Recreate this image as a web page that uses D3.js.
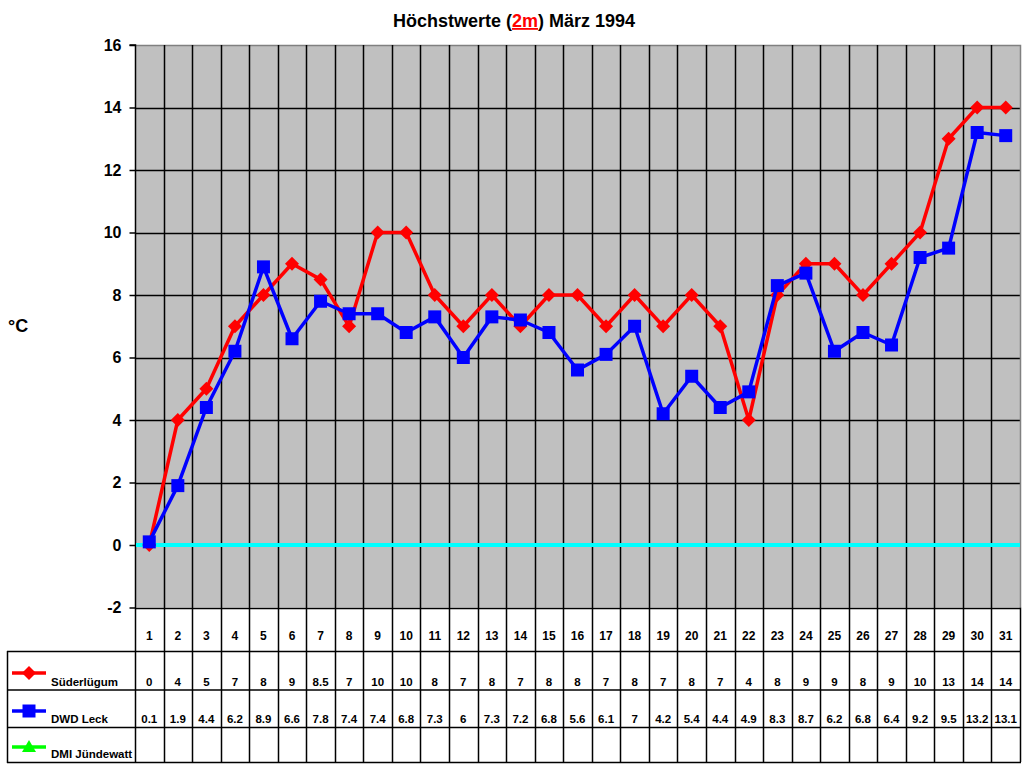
<!DOCTYPE html>
<html>
<head>
<meta charset="utf-8">
<script src="https://cdn.jsdelivr.net/npm/d3@7"></script>
<style>
  html, body { margin: 0; padding: 0; background: #fff; }
  svg { display: block; font-family: "Liberation Sans", Arial, sans-serif; font-weight: bold; }
</style>
</head>
<body>
<div id="chart"></div>
<script>
const days = d3.range(1, 32);
const suederluegum = [0, 4, 5, 7, 8, 9, 8.5, 7, 10, 10, 8, 7, 8, 7, 8, 8, 7, 8, 7, 8, 7, 4, 8, 9, 9, 8, 9, 10, 13, 14, 14];
const dwdLeck = [0.1, 1.9, 4.4, 6.2, 8.9, 6.6, 7.8, 7.4, 7.4, 6.8, 7.3, 6, 7.3, 7.2, 6.8, 5.6, 6.1, 7, 4.2, 5.4, 4.4, 4.9, 8.3, 8.7, 6.2, 6.8, 6.4, 9.2, 9.5, 13.2, 13.1];
const dmiJuendewatt = [];
const yTicks = [-2, 0, 2, 4, 6, 8, 10, 12, 14, 16];

const series = [
  { name: "Süderlügum", values: suederluegum, color: "#ff0000", marker: "diamond" },
  { name: "DWD Leck", values: dwdLeck, color: "#0000ff", marker: "square" },
  { name: "DMI Jündewatt", values: dmiJuendewatt, color: "#00ff00", marker: "triangle" },
];

const width = 1024, height = 768;
const plot = { left: 135, right: 1020, top: 45, bottom: 607.5 };
const tableRows = [651, 689.5, 727, 762];
const tableLeft = 7;

const svg = d3.select("#chart").append("svg")
  .attr("width", width)
  .attr("height", height);

const x = d3.scaleBand().domain(days).range([plot.left, plot.right]);
const y = d3.scaleLinear().domain([-2, 16]).range([plot.bottom, plot.top]);

// Plot background
svg.append("rect")
  .attr("x", plot.left).attr("y", plot.top)
  .attr("width", plot.right - plot.left).attr("height", plot.bottom - plot.top)
  .attr("fill", "#c0c0c0");

// Horizontal gridlines
svg.append("g")
  .selectAll("line")
  .data(yTicks.filter((t) => t !== 16))
  .join("line")
  .attr("x1", plot.left).attr("x2", plot.right)
  .attr("y1", (d) => Math.round(y(d)) + 0.5).attr("y2", (d) => Math.round(y(d)) + 0.5)
  .attr("stroke", "#000").attr("stroke-width", 1.5);

// Frame top/right in grey
svg.append("path")
  .attr("d", `M${plot.left},${plot.top + 0.5}H${plot.right + 0.5}V${plot.bottom}`)
  .attr("fill", "none").attr("stroke", "#808080").attr("stroke-width", 1.5);

// Vertical gridlines through plot and table
svg.append("g")
  .selectAll("line")
  .data(days.slice(1))
  .join("line")
  .attr("x1", (d) => Math.round(x(d)) + 0.5).attr("x2", (d) => Math.round(x(d)) + 0.5)
  .attr("y1", plot.top).attr("y2", tableRows[3])
  .attr("stroke", "#000").attr("stroke-width", 1.5);

// right border of table
svg.append("line")
  .attr("x1", plot.right + 0.5).attr("x2", plot.right + 0.5)
  .attr("y1", plot.bottom).attr("y2", tableRows[3])
  .attr("stroke", "#000").attr("stroke-width", 1.5);

// Y axis
svg.append("g")
  .attr("transform", `translate(${plot.left + 0.5},0)`)
  .call(d3.axisLeft(y).tickValues(yTicks).tickFormat((d) => String(d)).tickSize(6).tickPadding(8))
  .call((g) => g.select(".domain").attr("stroke", "#000").attr("stroke-width", 1.5)
    .attr("d", `M-6,${plot.top}H0V${tableRows[3]}`))
  .call((g) => g.selectAll(".tick line").attr("stroke", "#000").attr("stroke-width", 1.5))
  .selectAll("text")
  .attr("fill", "#000")
  .style("font-family", "'Liberation Sans', Arial, sans-serif")
  .style("font-weight", "bold")
  .style("font-size", "16px");

// Zero line
svg.append("line")
  .attr("x1", plot.left + 1).attr("x2", plot.right)
  .attr("y1", y(0)).attr("y2", y(0))
  .attr("stroke", "#00ffff").attr("stroke-width", 4);

// Data lines and markers
const markerPath = {
  diamond: "M0,-7L7,0L0,7L-7,0Z",
  square: "M-6.5,-6.5H6.5V6.5H-6.5Z",
  triangle: "M0,-7L7,5H-7Z",
};

series.forEach((s) => {
  const pts = s.values.map((v, i) => ({ day: days[i], v }));
  if (!pts.length) return;
  const line = d3.line()
    .x((d) => x(d.day) + x.bandwidth() / 2)
    .y((d) => y(d.v));
  svg.append("path")
    .datum(pts)
    .attr("fill", "none")
    .attr("stroke", s.color)
    .attr("stroke-width", 3.5)
    .attr("stroke-linejoin", "round")
    .attr("d", line);
  svg.append("g")
    .selectAll("path")
    .data(pts)
    .join("path")
    .attr("transform", (d) => `translate(${x(d.day) + x.bandwidth() / 2},${y(d.v)})`)
    .attr("d", markerPath[s.marker])
    .attr("fill", s.color);
});

// Table horizontal lines
svg.append("g")
  .selectAll("line")
  .data(tableRows)
  .join("line")
  .attr("x1", tableLeft).attr("x2", plot.right + 1)
  .attr("y1", (d) => d + 0.5).attr("y2", (d) => d + 0.5)
  .attr("stroke", "#000").attr("stroke-width", 1.5);

svg.append("line")
  .attr("x1", tableLeft + 0.5).attr("x2", tableLeft + 0.5)
  .attr("y1", tableRows[0]).attr("y2", tableRows[3] + 1)
  .attr("stroke", "#000").attr("stroke-width", 1.5);

// Day numbers
svg.append("g")
  .selectAll("text")
  .data(days)
  .join("text")
  .attr("x", (d) => x(d) + x.bandwidth() / 2)
  .attr("y", 640)
  .attr("text-anchor", "middle")
  .style("font-size", "12px")
  .text((d) => d);

// Series rows
series.forEach((s, i) => {
  const rowTop = tableRows[i], rowBottom = tableRows[i + 1];
  const baseline = rowBottom - 4;
  const lineY = rowTop + (rowBottom - rowTop) * 0.6;

  svg.append("line")
    .attr("x1", 12).attr("x2", 46)
    .attr("y1", lineY - 1).attr("y2", lineY - 1)
    .attr("stroke", s.color).attr("stroke-width", 3.5);
  svg.append("path")
    .attr("transform", `translate(29,${lineY - 1})`)
    .attr("d", markerPath[s.marker])
    .attr("fill", s.color);

  svg.append("text")
    .attr("x", 51).attr("y", baseline)
    .style("font-size", "11.5px")
    .text(s.name);

  svg.append("g")
    .selectAll("text")
    .data(s.values)
    .join("text")
    .attr("x", (d, j) => x(days[j]) + x.bandwidth() / 2)
    .attr("y", baseline)
    .attr("text-anchor", "middle")
    .style("font-size", "11.5px")
    .text((d) => d);
});

// Title
const title = svg.append("text")
  .attr("x", 514).attr("y", 27)
  .attr("text-anchor", "middle")
  .style("font-size", "18px");
title.append("tspan").text("Höchstwerte (");
title.append("tspan").attr("fill", "#ff0000").attr("text-decoration", "underline").text("2m");
title.append("tspan").text(") März 1994");

// Y unit label
svg.append("text")
  .attr("x", 8).attr("y", 332)
  .style("font-size", "18px")
  .text("°C");
</script>
</body>
</html>
